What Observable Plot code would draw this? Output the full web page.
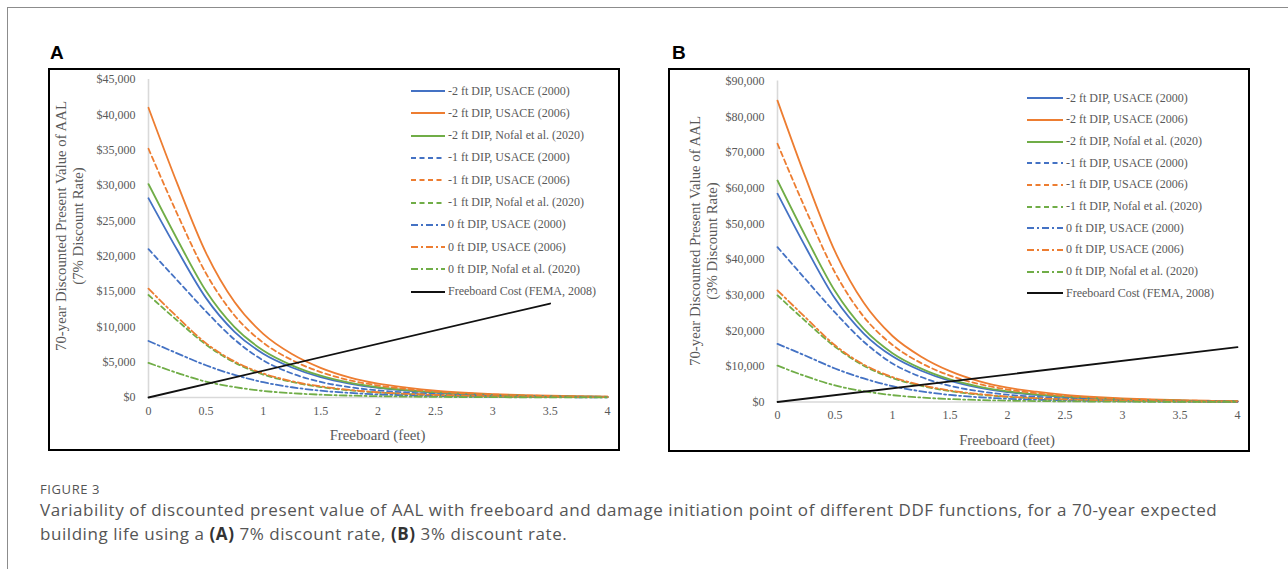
<!DOCTYPE html>
<html><head><meta charset="utf-8">
<script src="https://cdn.jsdelivr.net/npm/d3@7"></script>
<script src="https://cdn.jsdelivr.net/npm/@observablehq/plot@0.6"></script>
<style>
body{margin:0;background:#fff;}
#page{position:relative;width:1288px;height:569px;overflow:hidden;background:#fff;font-family:"Liberation Serif","Times New Roman",serif;}
.frame{position:absolute;left:7px;top:7px;width:1400px;height:700px;border-left:1px solid #8c8c8c;border-top:1px solid #8c8c8c;}
.panel{position:absolute;border:2px solid #000;box-sizing:border-box;}
.panel svg{position:absolute;left:0;top:0;}
.plab{position:absolute;font-family:"Liberation Sans",Arial,sans-serif;font-weight:bold;font-size:19px;color:#000;line-height:19px;}
.ytitle{position:absolute;white-space:nowrap;font-size:14.8px;color:#595959;transform:translate(-50%,-50%) rotate(-90deg);line-height:16px;}
.xtitle{position:absolute;white-space:nowrap;font-size:14.8px;color:#595959;transform:translate(-50%,-50%);line-height:16px;}
.leg{position:absolute;white-space:nowrap;font-size:12px;color:#595959;line-height:14px;}
.legsw{position:absolute;}
.figno{position:absolute;left:40px;top:480px;font-family:"Open Sans",sans-serif;font-size:13px;color:#555;letter-spacing:0.6px;}
.cap{position:absolute;left:40px;top:498px;font-family:"Open Sans",sans-serif;font-size:17px;letter-spacing:0.56px;color:#555;line-height:24px;white-space:nowrap;}
.cap b{color:#333;}
</style>
</head><body>
<div id="page">
  <div class="frame"></div>
</div>
<script>
// ---------- data ----------
const freeboard = [0,0.25,0.5,0.75,1,1.25,1.5,1.75,2,2.25,2.5,2.75,3,3.25,3.5,3.75,4];
const xTickValues = [0,0.5,1,1.5,2,2.5,3,3.5,4];
const yTicksA = [0,5000,10000,15000,20000,25000,30000,35000,40000,45000];
const yTicksB = [0,10000,20000,30000,40000,50000,60000,70000,80000,90000];

const seriesLabels = [
  "-2 ft DIP, USACE (2000)",
  "-2 ft DIP, USACE (2006)",
  "-2 ft DIP, Nofal et al. (2020)",
  "-1 ft DIP, USACE (2000)",
  "-1 ft DIP, USACE (2006)",
  "-1 ft DIP, Nofal et al. (2020)",
  "0 ft DIP, USACE (2000)",
  "0 ft DIP, USACE (2006)",
  "0 ft DIP, Nofal et al. (2020)"
];
const costLabel = "Freeboard Cost (FEMA, 2008)";
const seriesColors = ["#4472C4","#ED7D31","#70AD47","#4472C4","#ED7D31","#70AD47","#4472C4","#ED7D31","#70AD47"];
const seriesStyles = ["solid","solid","solid","dash","dash","dash","dashdot","dashdot","dashdot"];

// Panel A: 7% discount rate
const A_m2_usace2000 = [28200,20900,14100,9300,6200,4250,2880,1970,1350,960,680,480,340,240,170,120,85];
const A_m2_usace2006 = [41000,30300,20500,13500,9000,6150,4200,2850,1950,1400,980,700,490,350,250,170,120];
const A_m2_nofal2020 = [30200,22400,15100,9950,6650,4550,3080,2100,1450,1030,720,510,360,260,180,130,90];
const A_m1_usace2000 = [21000,16600,12200,8200,5250,3400,2200,1470,1000,700,490,350,250,175,125,90,63];
const A_m1_usace2006 = [35200,26000,17600,11600,7750,5300,3600,2450,1700,1200,840,600,420,300,210,150,105];
const A_m1_nofal2020 = [14500,10900,7500,4950,3250,2200,1480,1010,700,490,345,245,175,122,87,61,43];
const A_0_usace2000  = [8000,6250,4560,3200,2160,1450,960,650,440,310,215,150,105,75,52,37,26];
const A_0_usace2006  = [15400,11400,7700,5100,3400,2300,1570,1080,740,520,370,260,185,130,92,65,46];
const A_0_nofal2020  = [4900,3480,2250,1470,930,610,400,270,185,130,90,64,45,32,23,16,11];
const A_costX = [0,3.5];
const A_costY = [0,13300];

// Panel B: 3% discount rate
const B_m2_usace2000 = [58400,43100,29000,19200,12800,8760,5930,4060,2780,1980,1400,990,700,495,350,250,175];
const B_m2_usace2006 = [84500,62400,42200,27800,18500,12700,8650,5870,4020,2880,2020,1440,1010,720,515,350,250];
const B_m2_nofal2020 = [62100,46100,31100,20500,13700,9370,6340,4330,2990,2120,1480,1050,740,535,370,270,185];
const B_m1_usace2000 = [43400,34200,25100,16900,10800,7000,4530,3030,2060,1440,1010,720,515,360,258,185,130];
const B_m1_usace2006 = [72400,53600,36300,23900,16000,10900,7400,5050,3500,2470,1730,1240,865,620,430,310,215];
const B_m1_nofal2020 = [29900,22500,15500,10200,6700,4530,3050,2080,1440,1010,710,505,360,251,179,126,89];
const B_0_usace2000  = [16300,12900,9400,6600,4450,2990,1980,1340,905,640,443,310,216,155,107,76,54];
const B_0_usace2006  = [31300,23500,15900,10500,7000,4740,3230,2220,1520,1070,760,535,380,268,190,134,95];
const B_0_nofal2020  = [10200,7170,4640,3030,1920,1260,825,556,381,268,185,132,93,66,47,33,23];
const B_costX = [0,4];
const B_costY = [0,15400];

const A_series = [A_m2_usace2000,A_m2_usace2006,A_m2_nofal2020,A_m1_usace2000,A_m1_usace2006,A_m1_nofal2020,A_0_usace2000,A_0_usace2006,A_0_nofal2020];
const B_series = [B_m2_usace2000,B_m2_usace2006,B_m2_nofal2020,B_m1_usace2000,B_m1_usace2006,B_m1_nofal2020,B_0_usace2000,B_0_usace2006,B_0_nofal2020];

// ---------- drawing ----------
const dashMap = {solid: null, dash: "5,3.5", dashdot: "7,3,2,3"};
const money = d => "$" + d3.format(",")(d);
const page = document.getElementById("page");

function el(cls, style, html){
  const d = document.createElement("div");
  d.className = cls;
  Object.assign(d.style, style);
  if (html !== undefined) d.innerHTML = html;
  page.appendChild(d);
  return d;
}

function drawPanel(o){
  const box = el("panel", {left:o.left+"px", top:o.top+"px", width:o.w+"px", height:o.h+"px"});
  const W = o.w - 4, H = o.h - 4;
  const marks = [
    Plot.ruleY([0], {stroke:"#d9d9d9", strokeWidth:1.6}),
    Plot.ruleX([0], {stroke:"#d9d9d9", strokeWidth:1.6})
  ];
  o.series.forEach((vals, k) => {
    const rows = freeboard.map((x, i) => ({x, y: vals[i]}));
    marks.push(Plot.line(rows, {x:"x", y:"y", stroke:seriesColors[k], strokeWidth:1.8,
      strokeDasharray: dashMap[seriesStyles[k]] || undefined, curve:"monotone-x"}));
  });
  marks.push(Plot.line(o.costX.map((x,i)=>({x, y:o.costY[i]})), {x:"x", y:"y", stroke:"#111", strokeWidth:1.8}));
  const svg = Plot.plot({
    width: W, height: H,
    marginLeft: o.ml, marginRight: o.mr, marginTop: o.mt, marginBottom: o.mb,
    x: {domain:[0,4], ticks:xTickValues, tickSize:0, tickPadding:o.xpad, tickFormat:d => String(d), label:null},
    y: {domain:[0,o.ymax], ticks:o.yticks, tickSize:0, tickPadding:13, tickFormat:money, label:null},
    style: {fontFamily:'"Liberation Serif","Times New Roman",serif', fontSize:"12px", color:"#595959", background:"transparent", overflow:"visible"},
    marks
  });
  box.appendChild(svg);

  el("plab", {left:o.labX+"px", top:o.labY+"px"}, o.letter);
  el("ytitle", {left:o.yt1x+"px", top:o.ytY+"px"}, "70-year Discounted Present Value of AAL");
  el("ytitle", {left:o.yt2x+"px", top:o.ytY+"px"}, o.rateText);
  el("xtitle", {left:o.xtX+"px", top:o.xtY+"px"}, "Freeboard (feet)");

  const labels = seriesLabels.concat([costLabel]);
  labels.forEach((lab, k) => {
    const y = o.legY0 + k * o.legDy;
    const color = k < 9 ? seriesColors[k] : "#111";
    const dash = k < 9 ? dashMap[seriesStyles[k]] : null;
    const sw = document.createElementNS("http://www.w3.org/2000/svg", "svg");
    sw.setAttribute("width", o.legW); sw.setAttribute("height", 6);
    sw.setAttribute("class", "legsw");
    sw.style.left = o.legX + "px"; sw.style.top = (y - 3) + "px"; sw.style.position = "absolute";
    const ln = document.createElementNS("http://www.w3.org/2000/svg", "line");
    ln.setAttribute("x1", 0); ln.setAttribute("x2", o.legW); ln.setAttribute("y1", 3); ln.setAttribute("y2", 3);
    ln.setAttribute("stroke", color); ln.setAttribute("stroke-width", 2);
    if (dash) ln.setAttribute("stroke-dasharray", dash);
    sw.appendChild(ln);
    page.appendChild(sw);
    el("leg", {left:(o.legX + o.legW + 3)+"px", top:(y - 7.5)+"px"}, lab);
  });
}

drawPanel({
  letter:"A", left:48, top:68, w:572, h:383,
  ml:98, mr:11, mt:9, mb:52, xpad:9,
  ymax:45000, yticks:yTicksA, series:A_series, costX:A_costX, costY:A_costY,
  labX:50, labY:43, yt1x:61, yt2x:78, ytY:226, rateText:"(7% Discount Rate)",
  xtX:377.5, xtY:435,
  legX:411, legW:34, legY0:91, legDy:22.3
});
drawPanel({
  letter:"B", left:668, top:68, w:582, h:384,
  ml:107, mr:11, mt:10.5, mb:48.5, xpad:8.5,
  ymax:90000, yticks:yTicksB, series:B_series, costX:B_costX, costY:B_costY,
  labX:672, labY:43, yt1x:695, yt2x:712, ytY:241, rateText:"(3% Discount Rate)",
  xtX:1007, xtY:440,
  legX:1027, legW:36, legY0:98.3, legDy:21.67
});

el("figno", {}, "FIGURE 3");
el("cap", {}, "Variability of discounted present value of AAL with freeboard and damage initiation point of different DDF functions, for a 70-year expected<br>building life using a <b>(A)</b> 7% discount rate, <b>(B)</b> 3% discount rate.");
</script>
</body></html>
